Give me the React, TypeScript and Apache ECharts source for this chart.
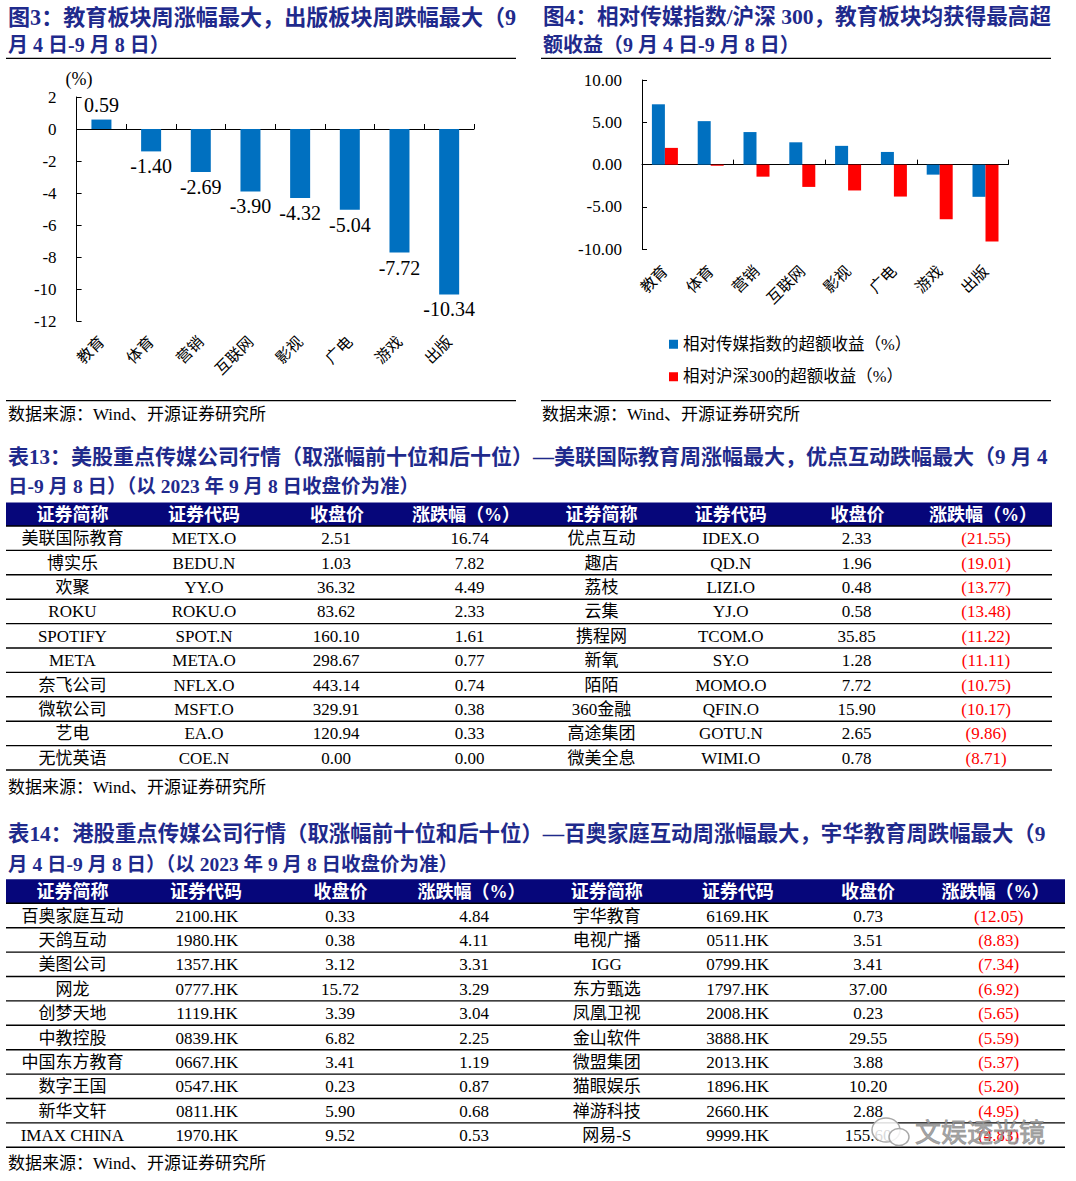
import React, { useEffect, useRef } from 'react';
import * as echarts from 'echarts';

const SERIF = "'Liberation Serif','Times New Roman','Noto Sans CJK SC',serif";
const TITLE_COLOR = '#1F2A8C';
const BAND_COLOR = '#06067A';
const BLUE = '#0070C0';
const RED = '#FF0000';

// ---------- Figure 3 ----------
const fig3Title = ['图3：教育板块周涨幅最大，出版板块周跌幅最大（9', '月 4 日-9 月 8 日）'];
const sectors = ['教育', '体育', '营销', '互联网', '影视', '广电', '游戏', '出版'];
const sectorWeeklyChange = [0.59, -1.4, -2.69, -3.9, -4.32, -5.04, -7.72, -10.34];
const fig3Unit = '(%)';
const fig3YMin = -12;
const fig3YMax = 2;
const fig3YInterval = 2;

// ---------- Figure 4 ----------
const fig4Title = ['图4：相对传媒指数/沪深 300，教育板块均获得最高超', '额收益（9 月 4 日-9 月 8 日）'];
const seriesVsMediaName = '相对传媒指数的超额收益（%）';
const seriesVsHS300Name = '相对沪深300的超额收益（%）';
const excessVsMedia = [7.13, 5.14, 3.85, 2.64, 2.22, 1.5, -1.18, -3.8];
const excessVsHS300 = [1.98, -0.13, -1.42, -2.63, -3.05, -3.77, -6.45, -9.07];
const fig4YMin = -10;
const fig4YMax = 10;
const fig4YInterval = 5;

const sourceNote = '数据来源：Wind、开源证券研究所';
const tableHeaders = ['证券简称', '证券代码', '收盘价', '涨跌幅（%）'];

// ---------- Table 13 (US) ----------
const tbl13Title = [
  '表13：美股重点传媒公司行情（取涨幅前十位和后十位）—美联国际教育周涨幅最大，优点互动跌幅最大（9 月 4',
  '日-9 月 8 日）（以 2023 年 9 月 8 日收盘价为准）',
];
const usUpNames = ['美联国际教育', '博实乐', '欢聚', 'ROKU', 'SPOTIFY', 'META', '奈飞公司', '微软公司', '艺电', '无忧英语'];
const usUpCodes = ['METX.O', 'BEDU.N', 'YY.O', 'ROKU.O', 'SPOT.N', 'META.O', 'NFLX.O', 'MSFT.O', 'EA.O', 'COE.N'];
const usUpClose = [2.51, 1.03, 36.32, 83.62, 160.1, 298.67, 443.14, 329.91, 120.94, 0.0];
const usUpChange = [16.74, 7.82, 4.49, 2.33, 1.61, 0.77, 0.74, 0.38, 0.33, 0.0];
const usDownNames = ['优点互动', '趣店', '荔枝', '云集', '携程网', '新氧', '陌陌', '360金融', '高途集团', '微美全息'];
const usDownCodes = ['IDEX.O', 'QD.N', 'LIZI.O', 'YJ.O', 'TCOM.O', 'SY.O', 'MOMO.O', 'QFIN.O', 'GOTU.N', 'WIMI.O'];
const usDownClose = [2.33, 1.96, 0.48, 0.58, 35.85, 1.28, 7.72, 15.9, 2.65, 0.78];
const usDownChange = [-21.55, -19.01, -13.77, -13.48, -11.22, -11.11, -10.75, -10.17, -9.86, -8.71];

// ---------- Table 14 (HK) ----------
const tbl14Title = [
  '表14：港股重点传媒公司行情（取涨幅前十位和后十位）—百奥家庭互动周涨幅最大，宇华教育周跌幅最大（9',
  '月 4 日-9 月 8 日）（以 2023 年 9 月 8 日收盘价为准）',
];
const hkUpNames = ['百奥家庭互动', '天鸽互动', '美图公司', '网龙', '创梦天地', '中教控股', '中国东方教育', '数字王国', '新华文轩', 'IMAX CHINA'];
const hkUpCodes = ['2100.HK', '1980.HK', '1357.HK', '0777.HK', '1119.HK', '0839.HK', '0667.HK', '0547.HK', '0811.HK', '1970.HK'];
const hkUpClose = [0.33, 0.38, 3.12, 15.72, 3.39, 6.82, 3.41, 0.23, 5.9, 9.52];
const hkUpChange = [4.84, 4.11, 3.31, 3.29, 3.04, 2.25, 1.19, 0.87, 0.68, 0.53];
const hkDownNames = ['宇华教育', '电视广播', 'IGG', '东方甄选', '凤凰卫视', '金山软件', '微盟集团', '猫眼娱乐', '禅游科技', '网易-S'];
const hkDownCodes = ['6169.HK', '0511.HK', '0799.HK', '1797.HK', '2008.HK', '3888.HK', '2013.HK', '1896.HK', '2660.HK', '9999.HK'];
const hkDownClose = [0.73, 3.51, 3.41, 37.0, 0.23, 29.55, 3.88, 10.2, 2.88, 155.6];
const hkDownChange = [-12.05, -8.83, -7.34, -6.92, -5.65, -5.59, -5.37, -5.2, -4.95, -4.83];

const watermarkText = '文娱透光镜';

// ---------- helpers ----------
function measure(text: string, font: string): number {
  try {
    const ctx = document.createElement('canvas').getContext('2d');
    if (!ctx) return 0;
    ctx.font = font;
    return ctx.measureText(text).width;
  } catch (e) {
    return 0;
  }
}

function fitSize(text: string, weight: string, target: number, fallback: number): number {
  const w = measure(text, `${weight} 100px ${SERIF}`);
  if (!w) return fallback;
  const s = (100 * target) / w;
  return Math.max(fallback - 3, Math.min(fallback + 3, Math.round(s * 10) / 10));
}

function txt(text: string, x: number, y: number, size: number, opts: any = {}) {
  return {
    type: 'text',
    x,
    y,
    silent: true,
    z: opts.z || 10,
    style: {
      text,
      fill: opts.color || '#000',
      font: `${opts.weight || 'normal'} ${size}px ${SERIF}`,
      textAlign: opts.align || 'left',
      textVerticalAlign: 'middle',
      opacity: opts.opacity == null ? 1 : opts.opacity,
      stroke: opts.stroke,
      lineWidth: opts.lineWidth || 0,
    },
  };
}

function hline(x1: number, x2: number, y: number, w = 1.3, color = '#000') {
  return {
    type: 'line',
    silent: true,
    z: 10,
    shape: { x1, y1: y, x2, y2: y },
    style: { stroke: color, lineWidth: w },
  };
}

function fmt2(v: number) {
  return v.toFixed(2);
}
function fmtChange(v: number) {
  return v < 0 ? `(${Math.abs(v).toFixed(2)})` : v.toFixed(2);
}

function tableGraphics(t: any) {
  const els: any[] = [];
  els.push({
    type: 'rect',
    silent: true,
    z: 9,
    shape: { x: t.x0, y: t.top, width: t.x1 - t.x0, height: t.headH },
    style: { fill: BAND_COLOR },
  });
  [0, 1].forEach((side) =>
    tableHeaders.forEach((h, i) =>
      els.push(txt(h, t.headCenters[side * 4 + i], t.top + t.headH / 2 + 0.5, 18, { color: '#fff', weight: 'bold', align: 'center' }))
    )
  );
  const bodyTop = t.top + t.headH;
  els.push(hline(t.x0, t.x1, bodyTop, 1.4));
  t.sides.forEach((s: any, side: number) => {
    s.names.forEach((n: string, r: number) => {
      const y = bodyTop + t.rowH * (r + 0.5) + 0.5;
      const vc = t.valCenters;
      els.push(txt(n, vc[side * 4], y, 17, { align: 'center' }));
      els.push(txt(s.codes[r], vc[side * 4 + 1], y, 17, { align: 'center' }));
      els.push(txt(fmt2(s.close[r]), vc[side * 4 + 2], y, 17, { align: 'center' }));
      els.push(txt(fmtChange(s.change[r]), vc[side * 4 + 3], y, 17, { align: 'center', color: s.change[r] < 0 ? RED : '#000' }));
    });
  });
  for (let r = 1; r <= t.sides[0].names.length; r++) {
    els.push(hline(t.x0, t.x1, bodyTop + t.rowH * r, 1.4));
  }
  return els;
}

function titleGraphics(lines: string[], x: number, y1: number, y2: number, targetRight: number, size1: number, size2: number) {
  const s1 = fitSize(lines[0], 'bold', targetRight - x, size1);
  return [
    txt(lines[0], x, y1, s1, { weight: 'bold', color: TITLE_COLOR }),
    txt(lines[1], x, y2, size2, { weight: 'bold', color: TITLE_COLOR }),
  ];
}

export default function App() {
  const ref = useRef<HTMLDivElement>(null);

  useEffect(() => {
    if (!ref.current) return;
    const chart = echarts.init(ref.current, undefined, { renderer: 'svg' });

    const axisLineStyle = { color: '#000', width: 1 };

    const graphics: any[] = [
      ...titleGraphics(fig3Title, 8, 17, 45, 516, 21.5, 20),
      ...titleGraphics(fig4Title, 543, 17, 45, 1051, 21.5, 20),
      hline(6, 516, 58.3, 1.3),
      hline(541, 1051, 58.3, 1.3),
      txt(fig3Unit, 79, 79, 18, { align: 'center' }),
      hline(6, 516, 400.7, 1.3),
      hline(541, 1051, 400.7, 1.3),
      txt(sourceNote, 8, 414, 17),
      txt(sourceNote, 542, 414, 17),
      ...titleGraphics(tbl13Title, 8, 456.5, 486.5, 1048, 21, 19.5),
      ...tableGraphics({
        x0: 6,
        x1: 1052,
        top: 502.5,
        headH: 23.5,
        rowH: 24.4,
        headCenters: [72.4, 204, 337, 466, 601.5, 730.8, 857.5, 983],
        valCenters: [72.4, 204, 336, 469.5, 601.5, 730.8, 856.7, 986],
        sides: [
          { names: usUpNames, codes: usUpCodes, close: usUpClose, change: usUpChange },
          { names: usDownNames, codes: usDownCodes, close: usDownClose, change: usDownChange },
        ],
      }),
      txt(sourceNote, 8, 787, 17),
      ...titleGraphics(tbl14Title, 8, 833.5, 864, 1048, 21, 19.5),
      ...tableGraphics({
        x0: 6,
        x1: 1065,
        top: 879.3,
        headH: 24,
        rowH: 24.4,
        headCenters: [72.4, 206, 340.5, 471.5, 606.7, 737.7, 868, 995.5],
        valCenters: [72.4, 207, 340, 474, 606.7, 737.7, 868, 998.7],
        sides: [
          { names: hkUpNames, codes: hkUpCodes, close: hkUpClose, change: hkUpChange },
          { names: hkDownNames, codes: hkDownCodes, close: hkDownClose, change: hkDownChange },
        ],
      }),
      txt(sourceNote, 8, 1163, 17),
      // watermark
      {
        type: 'ellipse',
        silent: true,
        z: 20,
        shape: { cx: 886, cy: 1130, rx: 14, ry: 12 },
        style: { fill: 'rgba(255,255,255,0.85)', stroke: '#a8a8a8', lineWidth: 1.5 },
      },
      {
        type: 'ellipse',
        silent: true,
        z: 21,
        shape: { cx: 899, cy: 1137, rx: 10, ry: 8.5 },
        style: { fill: 'rgba(255,255,255,0.85)', stroke: '#a8a8a8', lineWidth: 1.5 },
      },
      txt(watermarkText, 915, 1133, 26, { z: 22, color: 'rgba(150,150,150,0.85)', stroke: 'rgba(90,90,90,0.6)', lineWidth: 0.8 }),
    ];

    const option: any = {
      animation: false,
      backgroundColor: '#fff',
      textStyle: { fontFamily: SERIF },
      grid: [
        { left: 76.6, top: 97, width: 397.4, height: 224 },
        { left: 642, top: 80, width: 366.4, height: 169.3 },
      ],
      xAxis: [
        {
          type: 'category',
          gridIndex: 0,
          data: sectors,
          position: 'bottom',
          axisLine: { onZero: true, lineStyle: axisLineStyle },
          axisTick: { show: true, inside: true, length: 5, lineStyle: axisLineStyle },
          axisLabel: { show: false },
          splitLine: { show: false },
        },
        {
          type: 'category',
          gridIndex: 0,
          data: sectors,
          position: 'bottom',
          axisLine: { show: false, onZero: false },
          axisTick: { show: false },
          axisLabel: { interval: 0, rotate: 45, margin: 18, fontSize: 15.5, color: '#000', fontFamily: SERIF },
          splitLine: { show: false },
        },
        {
          type: 'category',
          gridIndex: 1,
          data: sectors,
          position: 'bottom',
          axisLine: { onZero: true, lineStyle: axisLineStyle },
          axisTick: { show: true, inside: true, length: 5, lineStyle: axisLineStyle },
          axisLabel: { show: false },
          splitLine: { show: false },
        },
        {
          type: 'category',
          gridIndex: 1,
          data: sectors,
          position: 'bottom',
          axisLine: { show: false, onZero: false },
          axisTick: { show: false },
          axisLabel: { interval: 0, rotate: 45, margin: 19, fontSize: 15.5, color: '#000', fontFamily: SERIF },
          splitLine: { show: false },
        },
      ],
      yAxis: [
        {
          type: 'value',
          gridIndex: 0,
          min: fig3YMin,
          max: fig3YMax,
          interval: fig3YInterval,
          axisLine: { show: true, lineStyle: axisLineStyle },
          axisTick: { show: true, inside: true, length: 5, lineStyle: axisLineStyle },
          axisLabel: { margin: 20, fontSize: 17, color: '#000', fontFamily: SERIF },
          splitLine: { show: false },
        },
        {
          type: 'value',
          gridIndex: 1,
          min: fig4YMin,
          max: fig4YMax,
          interval: fig4YInterval,
          axisLine: { show: true, lineStyle: axisLineStyle },
          axisTick: { show: true, inside: true, length: 5, lineStyle: axisLineStyle },
          axisLabel: { margin: 20, fontSize: 17, color: '#000', fontFamily: SERIF, formatter: (v: number) => v.toFixed(2) },
          splitLine: { show: false },
        },
      ],
      legend: {
        orient: 'vertical',
        left: 669,
        top: 336,
        padding: 0,
        itemWidth: 9,
        itemHeight: 9,
        itemGap: 16,
        icon: 'rect',
        textStyle: { fontSize: 16.5, color: '#000', fontFamily: SERIF },
        data: [seriesVsMediaName, seriesVsHS300Name],
      },
      series: [
        {
          name: '周涨跌幅',
          type: 'bar',
          xAxisIndex: 0,
          yAxisIndex: 0,
          barWidth: 20,
          itemStyle: { color: BLUE },
          label: {
            show: true,
            distance: 5,
            fontSize: 20,
            color: '#000',
            fontFamily: SERIF,
            formatter: (p: any) => fmt2(p.value),
          },
          data: sectorWeeklyChange.map((v) => ({ value: v, label: { position: v >= 0 ? 'top' : 'bottom' } })),
        },
        {
          name: seriesVsMediaName,
          type: 'bar',
          xAxisIndex: 2,
          yAxisIndex: 1,
          barWidth: 13,
          barGap: '0%',
          itemStyle: { color: BLUE },
          data: excessVsMedia,
        },
        {
          name: seriesVsHS300Name,
          type: 'bar',
          xAxisIndex: 2,
          yAxisIndex: 1,
          barWidth: 13,
          barGap: '0%',
          itemStyle: { color: RED },
          data: excessVsHS300,
        },
      ],
      graphic: { elements: graphics },
    };

    chart.setOption(option);
    return () => chart.dispose();
  }, []);

  return (
    <div
      ref={ref}
      style={{ position: 'fixed', left: 0, top: 0, width: 1076, height: 1181, background: '#fff' }}
    />
  );
}
